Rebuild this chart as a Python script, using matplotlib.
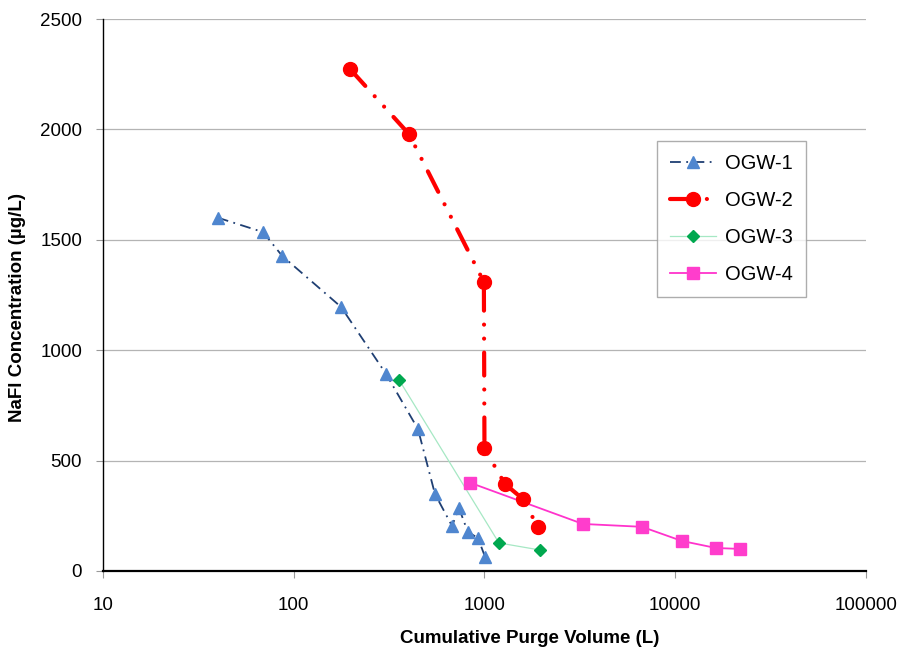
import matplotlib
matplotlib.use('Agg')
import matplotlib.pyplot as plt
from matplotlib.ticker import FixedLocator, FixedFormatter, NullLocator

# data
ogw1_vol = [40, 69, 87, 177, 305, 448, 550, 676, 735, 818, 925, 1006]
ogw1_conc = [1600, 1535, 1427, 1196, 892, 643, 349, 204, 285, 177, 149, 65]
ogw2_vol = [197, 402, 993, 1000, 1280, 1592, 1905]
ogw2_conc = [2274, 1979, 1309, 555, 394, 326, 199]
ogw3_vol = [357, 1191, 1954]
ogw3_conc = [865, 127, 95]
ogw4_vol = [839, 3282, 6698, 10840, 16370, 21820]
ogw4_conc = [400, 213, 200, 136, 104, 100]

x_ticks = [10, 100, 1000, 10000, 100000]
x_labels = ['10', '100', '1000', '10000', '100000']
y_ticks = [0, 500, 1000, 1500, 2000, 2500]

plt.rcParams['font.family'] = ['Liberation Sans', 'DejaVu Sans']

fig = plt.figure(figsize=(9.02, 6.47), dpi=100)
ax = fig.add_axes([0.1142, 0.1175, 0.8458, 0.8531])

ax.plot(ogw1_vol, ogw1_conc, color='#1F3F73', lw=1.3, dashes=(6, 3, 1, 3),
        marker='^', ms=9, mfc='#4F86CF', mec='#4F86CF', label='OGW-1', zorder=3)
ax.plot(ogw2_vol, ogw2_conc, color='#FF0000', lw=3.0, dashes=(5.5, 3.35, 0.01, 3.35, 0.01, 3.35),
        dash_capstyle='round', marker='o', ms=10, mfc='#FF0000', mec='#FF0000',
        label='OGW-2', zorder=4)
ax.plot(ogw3_vol, ogw3_conc, color='#A6E8C4', lw=0.9, marker='D', ms=6.5,
        mfc='#00A84F', mec='#00A84F', label='OGW-3', zorder=3)
ax.plot(ogw4_vol, ogw4_conc, color='#FF33CC', lw=1.3, marker='s', ms=9,
        mfc='#FF3DCC', mec='#FF3DCC', label='OGW-4', zorder=3)

ax.set_xscale('log')
ax.set_xlim(10, 100000)
ax.set_ylim(0, 2500)
ax.xaxis.set_major_locator(FixedLocator(x_ticks))
ax.xaxis.set_major_formatter(FixedFormatter(x_labels))
ax.xaxis.set_minor_locator(NullLocator())
ax.set_yticks(y_ticks)

ax.yaxis.grid(True, color='#B4B4B4', lw=0.9)
ax.set_axisbelow(True)
for s in ['top', 'right']:
    ax.spines[s].set_visible(False)
ax.spines['bottom'].set_linewidth(1.6)
ax.spines['left'].set_linewidth(1.0)
ax.tick_params(axis='x', length=5, color='#999999', pad=13.5, labelsize=13.5)
ax.tick_params(axis='y', length=5, color='#999999', pad=10, labelsize=13.5)

# axis titles placed like the original (x title sits right of centre)
fig.text(530 / 902, 1 - 643 / 647, 'Cumulative Purge Volume (L)', fontsize=13.5,
         fontweight='bold', ha='center', va='baseline')
fig.text(18 / 902, 1 - 307 / 647, 'NaFl Concentration (µg/L)', fontsize=13.5,
         fontweight='bold', rotation=90, ha='center', va='center')

leg = ax.legend(loc='upper left', bbox_to_anchor=(0.7257, 0.7795), borderaxespad=0,
                fontsize=14.5, frameon=True, fancybox=False, edgecolor='#999999',
                handlelength=2.3, handletextpad=0.45, labelspacing=0.9, borderpad=0.65)
leg.get_frame().set_linewidth(1.0)

plt.savefig('out.png', dpi=100)
